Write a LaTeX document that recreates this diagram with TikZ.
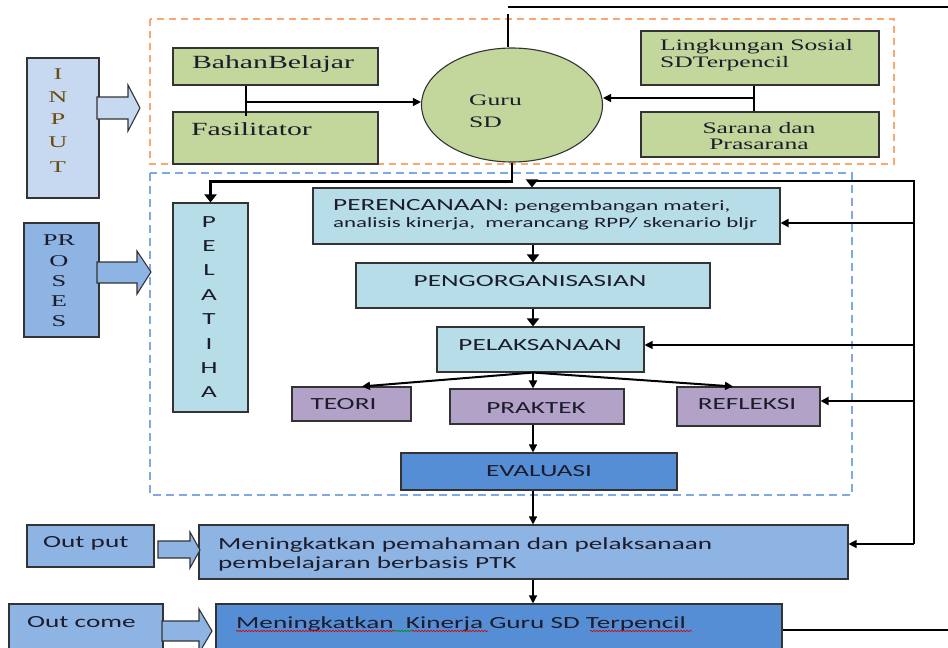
\documentclass[tikz,border=0pt]{standalone}
\usepackage{fontspec}
\usetikzlibrary{arrows.meta,decorations.pathmorphing,calc,shapes.geometric}
\newfontfamily\rmw[FakeStretch=1.6]{Liberation Serif}
\newfontfamily\sfw[FakeStretch=1.6]{Carlito}
\definecolor{inpc}{HTML}{C6D9F1}
\definecolor{grn}{HTML}{C3D69B}
\definecolor{cyn}{HTML}{B7DEE8}
\definecolor{prp}{HTML}{B3A2C7}
\definecolor{mbl}{HTML}{8EB4E3}
\definecolor{dbl}{HTML}{558ED5}
\definecolor{bord}{HTML}{333333}
\definecolor{orn}{HTML}{F9A870}
\definecolor{bdash}{HTML}{7FA9E2}
\definecolor{txt}{HTML}{1C1C2C}
\definecolor{brn}{HTML}{6E4A14}
\newcommand{\bx}[6]{\node[bxs,#6,minimum width={(#4-#2)*1pt},minimum height={(#5-#3)*1pt}] (#1) at ({(#2+#4)/2},{(#3+#5)/2}) {};}
\begin{document}
\begin{tikzpicture}[x=1pt,y=-1pt,
 bxs/.style={draw=bord,line width=1.1pt,inner sep=0pt,rectangle},
 tx/.style={inner sep=0pt,text=txt,font=\sfw\fontsize{17}{20}\selectfont},
 rx/.style={inner sep=0pt,text=txt,font=\rmw\fontsize{16}{18}\selectfont},
 conn/.style={draw=black,line width=1.3pt},
 thk/.style={draw=black,line width=2.8pt},
 med/.style={draw=black,line width=2pt},
 tip/.style={-{Triangle[length=8pt,width=8pt]}},
 bigtip/.style={-{Triangle[length=8pt,width=12pt]}},
 blk/.style={draw=bord,line width=1.1pt},
 wav/.style={line width=0.6pt,decorate,decoration={snake,amplitude=0.8pt,segment length=3pt}}
]
\useasboundingbox (0,0) rectangle (948,648);
\clip (0,0) rectangle (948,648);

% group frames
\draw[orn,line width=1.3pt,dash pattern=on 7pt off 5pt] (150,19) rectangle (894,164);
\draw[bdash,line width=1.3pt,dash pattern=on 8pt off 5pt] (150,173) rectangle (852,495);

% boxes
\bx{input}{27}{58}{99}{198}{fill=inpc}
\bx{proses}{24}{223}{99}{337}{fill=mbl}
\bx{bahan}{173}{48}{378}{85}{fill=grn}
\bx{fasil}{173}{112}{378}{164}{fill=grn}
\bx{ling}{641}{31}{879}{85}{fill=grn}
\bx{sarana}{641}{112}{879}{157}{fill=grn}
\bx{pelat}{173}{203}{248}{412}{fill=cyn}
\bx{peren}{313}{188}{780}{244}{fill=cyn}
\bx{pengor}{356}{263}{710}{308}{fill=cyn}
\bx{pelaks}{437}{327}{644}{372}{fill=cyn}
\bx{teori}{292}{387}{411}{421}{fill=prp}
\bx{praktek}{450}{389}{624}{424}{fill=prp}
\bx{refl}{677}{387}{820}{426}{fill=prp}
\bx{eval}{401}{453}{677}{490}{fill=dbl}
\bx{outL}{27}{525}{154}{567}{fill=mbl}
\bx{outM}{199}{525}{848}{579}{fill=mbl}
\bx{ocL}{9}{604}{163}{662}{fill=mbl}
\bx{ocM}{216}{604}{782}{662}{fill=dbl}
\node[draw=bord,line width=1.1pt,fill=grn,ellipse,inner sep=0pt,minimum width=181pt,minimum height=114pt] (guru) at (512,105) {};

% block arrows
\filldraw[blk,fill=inpc] (97,97) -- (128,97) -- (128,85) -- (140,108) -- (128,131) -- (128,119) -- (97,119) -- cycle;
\filldraw[blk,fill=mbl] (97,262) -- (137,262) -- (137,251) -- (151,272) -- (137,294) -- (137,283) -- (97,283) -- cycle;
\filldraw[blk,fill=mbl] (158,541) -- (190,541) -- (190,532) -- (200,550) -- (190,568) -- (190,558) -- (158,558) -- cycle;
\filldraw[blk,fill=mbl] (162,621) -- (199,621) -- (199,609) -- (212,631) -- (199,653) -- (199,641) -- (162,641) -- cycle;

% connectors in the input frame
\coordinate (jl) at (246,102);
\coordinate (jlb) at (246,116);
\draw[conn] (bahan.south -| jl) -- (jlb);
\draw[conn,tip] (jl) -- (jl -| guru.west);
\coordinate (jr) at (754,98);
\draw[conn] (ling.south -| jr) -- (sarana.north -| jr);
\draw[conn,tip] (jr) -- (jr -| guru.east);

% top lines
\coordinate (tl) at (508,7);
\coordinate (tr) at (948,7);
\draw[thk] (tl) -- (tr);
\coordinate (gt) at (508,14);
\draw[thk] (gt) -- (gt |- guru.north);

% guru to pelatihan
\path (guru.south) ++(0,19) coordinate (g1);
\draw[thk,bigtip] (guru.south) -- (g1) -| (pelat.north);

% feedback loop on the right
\coordinate (rt) at (914,181);
\coordinate (rb) at (914,544);
\coordinate (pt) at (532,181);
\draw[thk,bigtip] (rb) -- (rt) -- (pt) -- (pt |- peren.north);
\draw[conn,tip] (rb) -- (rb -| outM.east);
\coordinate (b1) at (914,223);
\draw[med,tip] (b1) -- (b1 -| peren.east);
\coordinate (b2) at (914,345);
\draw[conn,tip] (b2) -- (b2 -| pelaks.east);
\coordinate (b3) at (914,401);
\draw[med,tip] (b3) -- (b3 -| refl.east);

% main chain
\coordinate (cx) at (533,0);
\coordinate (tx1) at (362,0);
\coordinate (rx1) at (733,0);
\draw[thk,bigtip] (peren.south -| cx) -- (pengor.north -| cx);
\draw[thk,bigtip] (pengor.south -| cx) -- (pelaks.north -| cx);
\coordinate (pb) at (pelaks.south -| cx);
\draw[med,tip] (pb) -- (teori.north -| tx1);
\draw[med,tip] (pb) -- (praktek.north -| cx);
\draw[med,tip] (pb) -- (refl.north -| rx1);
\draw[conn,tip] (praktek.south -| cx) -- (eval.north -| cx);
\draw[conn,tip] (eval.south -| cx) -- (outM.north -| cx);
\draw[conn,tip] (outM.south -| cx) -- (ocM.north -| cx);
\coordinate (oe) at (948,630);
\draw[med] (oe -| ocM.east) -- (oe);

% serif texts
\node[rx,font=\rmw\fontsize{18.6}{20}\selectfont,anchor=base] (tbahan) at (273,68) {BahanBelajar};
\node[rx,font=\rmw\fontsize{18.6}{20}\selectfont,anchor=base west] (tfasil) at (191,135) {Fasilitator};
\node[rx,anchor=base west] (tling1) at (660,50) {Lingkungan Sosial};
\node[rx,anchor=base west] (tling2) at (660,67) {SDTerpencil};
\node[rx,anchor=base] (tsar1) at (759,133) {Sarana dan};
\node[rx,anchor=base] (tsar2) at (759,149) {Prasarana};
\node[rx,anchor=base west] (tguru1) at (469,105) {Guru};
\node[rx,anchor=base west] (tguru2) at (469,127) {SD};
\foreach \l/\y in {I/79,N/102,P/124,U/147,T/172}
  \node[rx,text=brn,font=\rmw\fontsize{16.5}{18}\selectfont,anchor=base] (in\y) at (58,\y) {\l};
\foreach \l/\y in {PR/245,O/266,S/286,E/306,S/326}
  \node[rx,font=\rmw\fontsize{16.5}{18}\selectfont,anchor=base] (pr\y) at (59,\y) {\l};
\foreach \l [count=\i] in {P,E,L,A,T,I,H,A}
  \node[tx,anchor=base] (pl\i) at (209,{227+24.4*(\i-1)}) {\l};

% sans texts
\node[tx,anchor=base west] (tper1) at (333,210) {PERENCANAAN{\fontsize{14.3}{17}\selectfont: pengembangan materi,}};
\node[tx,font=\sfw\fontsize{14.3}{17}\selectfont,anchor=base west] (tper2) at (333,227) {analisis kinerja,\ \ merancang RPP/ skenario bljr};
\node[tx,anchor=base] (tpengor) at (530,286) {PENGORGANISASIAN};
\node[tx,anchor=base] (tpelaks) at (540,350) {PELAKSANAAN};
\node[tx,anchor=base] (tteori) at (343.5,409) {TEORI};
\node[tx,anchor=base] (tprak) at (536,413) {PRAKTEK};
\node[tx,anchor=base] (trefl) at (747,409) {REFLEKSI};
\node[tx,anchor=base] (teval) at (539,476) {EVALUASI};
\node[tx,anchor=base west] (toutL) at (43,547) {Out put};
\node[tx,anchor=base west] (toutM1) at (218,549) {Meningkatkan pemahaman dan pelaksanaan};
\node[tx,anchor=base west] (toutM2) at (218,568) {pembelajaran berbasis PTK};
\node[tx,anchor=base west] (tocL) at (27,627) {Out come};
\node[tx,anchor=base west] (tocM) at (236,628) {Meningkatkan\ \ Kinerja Guru SD Terpencil};

% spell-check underlines
\draw[wav,red!85!black] (236,631) -- (395,631);
\draw[wav,green!55!black] (395,631) -- (412,631);
\draw[wav,red!85!black] (412,631) -- (488,631);
\draw[wav,red!85!black] (590,631) -- (692,631);
\end{tikzpicture}
\end{document}
